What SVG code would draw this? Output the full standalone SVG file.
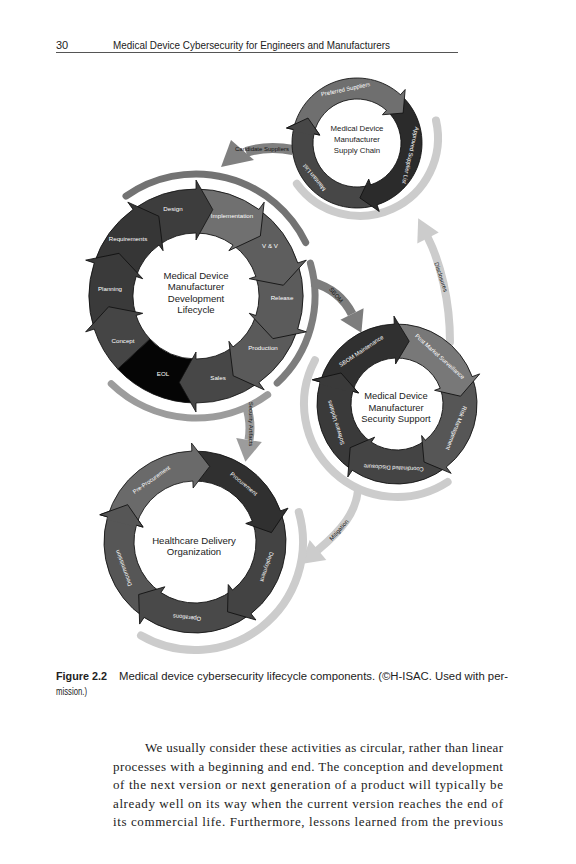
<svg xmlns="http://www.w3.org/2000/svg" width="576" height="864" viewBox="0 0 576 864">
<defs>
<style>
.seg{stroke:#111;stroke-width:0.8;stroke-linejoin:miter}
.sans{font-family:"Liberation Sans",Arial,sans-serif}
.lbl{font-family:"Liberation Sans",Arial,sans-serif;font-size:6.2px;fill:#fff;text-anchor:middle;dominant-baseline:central}
.rl{font-family:"Liberation Sans",Arial,sans-serif;font-size:5.8px;fill:#fff;text-anchor:middle;dominant-baseline:central}
.ctr{font-family:"Liberation Sans",Arial,sans-serif;fill:#222;text-anchor:middle}
.cl{font-family:"Liberation Sans",Arial,sans-serif;font-size:6px;fill:#111;text-anchor:middle;dominant-baseline:central}
.arc{fill:none;stroke-linecap:round}
.body{font-family:"Liberation Serif","Times New Roman",serif;font-size:13px;fill:#222}
</style>
<path id="m36" d="M86.56 -62.89 A107 107 0 0 1 107 0 L116 0 L86.38 16.79 L56 0 L63 0 A63 63 0 0 0 50.97 -37.03 Z"/>
<path id="m47" d="M72.97 -78.26 A107 107 0 0 1 107 0 L63 0 A63 63 0 0 0 42.97 -46.08 Z"/>
<path id="m25" d="M96.97 -45.22 A107 107 0 0 1 107 0 L116 0 L86.38 16.79 L56 0 L63 0 A63 63 0 0 0 57.10 -26.62 Z"/>
<path id="s120" d="M-32.5 -56.29 A65 65 0 0 1 65 0 L72 0 L53.13 14.23 L38 0 L44 0 A44 44 0 0 0 -22 -38.11 Z"/>
<path id="q72" d="M24.72 -76.09 A80 80 0 0 1 80 0 L88 0 L62.36 14.40 L40 0 L46 0 A46 46 0 0 0 14.21 -43.75 Z"/>
<path id="h72" d="M28.12 -86.55 A91 91 0 0 1 91 0 L99 0 L75.03 17.33 L54 0 L61 0 A61 61 0 0 0 18.85 -58.02 Z"/>
</defs>
<rect width="576" height="864" fill="#fff"/>

<g id="header" class="sans" fill="#222">
<text x="56" y="49" font-size="11">30</text>
<text x="113" y="49" font-size="11" textLength="277" lengthAdjust="spacingAndGlyphs">Medical Device Cybersecurity for Engineers and Manufacturers</text>
<path d="M56 52.5 H458" stroke="#555" stroke-width="1"/>
</g>

<g id="connectors">
<path class="arc" d="M126 196.1 A122 122 0 0 1 305.7 242.5" stroke="#737373" stroke-width="7"/>
<path class="arc" d="M310.4 263.2 A119 119 0 0 1 277.2 383" stroke="#7d7d7d" stroke-width="7"/>
<path d="M312 282 Q340 290 352 314" stroke="#7d7d7d" stroke-width="9" fill="none"/>
<polygon points="363.6,308.2 340.4,319.8 361.4,332.8" fill="#7d7d7d"/>
<text class="cl" transform="translate(336 295) rotate(50)">SBOM</text>
<path class="arc" d="M267.7 394.7 A122 122 0 0 1 111.25 383.75" stroke="#9c9c9c" stroke-width="7"/>
<path d="M246 405 Q252 422 249 440" stroke="#9c9c9c" stroke-width="9" fill="none"/>
<polygon points="261.8,442.1 236.2,437.9 245.4,461.7" fill="#9c9c9c"/>
<text class="cl" transform="translate(250.5 424) rotate(90)">Security Artifacts</text>
<path d="M293 150 Q268 145 246 152" stroke="#808080" stroke-width="10" fill="none"/>
<polygon points="231,140 254,160 221,167" fill="#808080"/>
<text class="cl" x="262" y="148.5">Candidate Suppliers</text>
<path class="arc" d="M296.9 183.8 A78 78 0 0 0 436 120.5" stroke="#cccccc" stroke-width="8"/>
<path class="arc" d="M450 342 C450 300 440 262 428 238" stroke="#cccccc" stroke-width="8"/>
<polygon points="438.7,232.6 417.3,243.4 418.2,218.3" fill="#cccccc"/>
<text class="cl" transform="translate(441 277) rotate(72)">Disclosures</text>
<path class="arc" d="M314.9 360.3 A93 93 0 0 0 447.6 482" stroke="#cccccc" stroke-width="8"/>
<path class="arc" d="M358 490 C356 512 342 530 318 550" stroke="#cccccc" stroke-width="8"/>
<polygon points="326.3,560 309.7,540 301.1,564.1" fill="#cccccc"/>
<text class="cl" transform="translate(339 530) rotate(-48)">Mitigation</text>
<path class="arc" d="M298.8 512.2 A108 108 0 0 1 141 635.5" stroke="#cccccc" stroke-width="8"/>
</g>

<g id="dev-lifecycle">
<g id="seg-eol"><use href="#m47" class="seg" fill="#050505" transform="translate(196 296) rotate(137)"/><text class="lbl" x="163" y="373">EOL</text></g>
<g id="seg-sales"><use href="#m36" class="seg" fill="#474747" transform="translate(196 296) rotate(90)"/><text class="lbl" x="218" y="377">Sales</text></g>
<g id="seg-production"><use href="#m36" class="seg" fill="#5a5a5a" transform="translate(196 296) rotate(54)"/><text class="lbl" x="263" y="347">Production</text></g>
<g id="seg-release"><use href="#m36" class="seg" fill="#5b5b5b" transform="translate(196 296) rotate(18)"/><text class="lbl" x="282" y="297">Release</text></g>
<g id="seg-vv"><use href="#m36" class="seg" fill="#5e5e5e" transform="translate(196 296) rotate(-18)"/><text class="lbl" x="270" y="245">V &amp; V</text></g>
<g id="seg-implementation"><use href="#m36" class="seg" fill="#707070" transform="translate(196 296) rotate(-54)"/><text class="lbl" x="232" y="215">Implementation</text></g>
<g id="seg-design"><use href="#m36" class="seg" fill="#3d3d3d" transform="translate(196 296) rotate(-90)"/><text class="lbl" x="173" y="208">Design</text></g>
<g id="seg-requirements"><use href="#m36" class="seg" fill="#363636" transform="translate(196 296) rotate(-126)"/><text class="lbl" x="128" y="238">Requirements</text></g>
<g id="seg-planning"><use href="#m36" class="seg" fill="#3a3a3a" transform="translate(196 296) rotate(198)"/><text class="lbl" x="110" y="288">Planning</text></g>
<g id="seg-concept"><use href="#m25" class="seg" fill="#454545" transform="translate(196 296) rotate(162)"/><text class="lbl" x="123" y="340">Concept</text></g>
<g id="dev-title" class="ctr" font-size="9.6">
<text x="196" y="278.5">Medical Device</text>
<text x="196" y="290">Manufacturer</text>
<text x="196" y="301.5">Development</text>
<text x="196" y="313">Lifecycle</text>
</g>
</g>

<g id="supply-chain">
<g id="seg-maintain"><use href="#s120" class="seg" fill="#474747" transform="translate(357 143) rotate(192)"/></g>
<g id="seg-approved"><use href="#s120" class="seg" fill="#2b2b2b" transform="translate(357 143) rotate(72)"/></g>
<g id="seg-preferred"><use href="#s120" class="seg" fill="#6f6f6f" transform="translate(357 143) rotate(-48)"/></g>
<g transform="translate(357 143) rotate(192)">
<path d="M64.98 -1.70 L65 0 L72 0 L53.13 14.23 L38 0 L44 0 L43.98 -1.15 Z" fill="#474747"/>
<path d="M65 0 L72 0 L53.13 14.23 L38 0 L44 0" class="seg" fill="none"/>
</g>
<text class="rl" transform="translate(357 143) rotate(-12)" x="0" y="-55">Preferred Suppliers</text>
<text class="rl" transform="translate(357 143) rotate(103)" x="0" y="-55">Approved Supplier List</text>
<text class="rl" transform="translate(357 143) rotate(231)" x="0" y="-55">Maintain List</text>
<g id="supply-title" class="ctr" font-size="7.8">
<text x="357" y="131">Medical Device</text>
<text x="357" y="142">Manufacturer</text>
<text x="357" y="152.5">Supply Chain</text>
</g>
</g>

<g id="security-support">
<g id="seg-software"><use href="#q72" class="seg" fill="#3a3a3a" transform="translate(397 404) rotate(196)"/></g>
<g id="seg-coordinated"><use href="#q72" class="seg" fill="#444444" transform="translate(397 404) rotate(124)"/></g>
<g id="seg-risk"><use href="#q72" class="seg" fill="#565656" transform="translate(397 404) rotate(52)"/></g>
<g id="seg-pms"><use href="#q72" class="seg" fill="#787878" transform="translate(397 404) rotate(-20)"/></g>
<g id="seg-sbom"><use href="#q72" class="seg" fill="#303030" transform="translate(397 404) rotate(-92)"/></g>
<g transform="translate(397 404) rotate(196)">
<path d="M79.97 -2.09 L80 0 L88 0 L62.36 14.40 L40 0 L46 0 L45.98 -1.20 Z" fill="#3a3a3a"/>
<path d="M80 0 L88 0 L62.36 14.40 L40 0 L46 0" class="seg" fill="none"/>
</g>
<text class="rl" transform="translate(397 404) rotate(-34)" x="0" y="-64">SBOM Maintenance</text>
<text class="rl" transform="translate(397 404) rotate(42)" x="0" y="-64">Post Market Surveillance</text>
<text class="rl" transform="translate(397 404) rotate(112)" x="0" y="-64">Risk Management</text>
<text class="rl" transform="translate(397 404) rotate(183)" x="0" y="-64">Coordinated Disclosure</text>
<text class="rl" transform="translate(397 404) rotate(253)" x="0" y="-64">Software Updates</text>
<g id="security-title" class="ctr" font-size="9.4">
<text x="396" y="399">Medical Device</text>
<text x="396" y="410.5">Manufacturer</text>
<text x="396" y="422">Security Support</text>
</g>
</g>

<g id="healthcare">
<g id="seg-decommission"><use href="#h72" class="seg" fill="#565656" transform="translate(195 542) rotate(196)"/></g>
<g id="seg-operations"><use href="#h72" class="seg" fill="#494949" transform="translate(195 542) rotate(124)"/></g>
<g id="seg-deployment"><use href="#h72" class="seg" fill="#434343" transform="translate(195 542) rotate(52)"/></g>
<g id="seg-procurement"><use href="#h72" class="seg" fill="#303030" transform="translate(195 542) rotate(-20)"/></g>
<g id="seg-preprocurement"><use href="#h72" class="seg" fill="#6a6a6a" transform="translate(195 542) rotate(-92)"/></g>
<g transform="translate(195 542) rotate(196)">
<path d="M90.97 -2.38 L91 0 L99 0 L75.03 17.33 L54 0 L61 0 L60.98 -1.60 Z" fill="#565656"/>
<path d="M91 0 L99 0 L75.03 17.33 L54 0 L61 0" class="seg" fill="none"/>
</g>
<text class="rl" transform="translate(195 542) rotate(-35)" x="0" y="-76">Pre-Procurement</text>
<text class="rl" transform="translate(195 542) rotate(40)" x="0" y="-76">Procurement</text>
<text class="rl" transform="translate(195 542) rotate(109)" x="0" y="-76">Deployment</text>
<text class="rl" transform="translate(195 542) rotate(186)" x="0" y="-76">Operations</text>
<text class="rl" transform="translate(195 542) rotate(250)" x="0" y="-76">Decommission</text>
<g id="healthcare-title" class="ctr" font-size="9.6">
<text x="194" y="543.5">Healthcare Delivery</text>
<text x="194" y="554.5">Organization</text>
</g>
</g>

<g id="caption" class="sans" fill="#222">
<text x="56" y="680" font-size="10" font-weight="bold" textLength="51" lengthAdjust="spacingAndGlyphs">Figure 2.2</text>
<text x="119" y="680" font-size="10" textLength="389" lengthAdjust="spacingAndGlyphs">Medical device cybersecurity lifecycle components. (©H-ISAC. Used with per-</text>
<text x="56" y="695" font-size="10" textLength="31" lengthAdjust="spacingAndGlyphs">mission.)</text>
</g>

<g id="body-text" class="body">
<text x="145" y="752" textLength="358" lengthAdjust="spacing">We usually consider these activities as circular, rather than linear</text>
<text x="113" y="770.5" textLength="390" lengthAdjust="spacing">processes with a beginning and end. The conception and development</text>
<text x="113" y="789" textLength="390" lengthAdjust="spacing">of the next version or next generation of a product will typically be</text>
<text x="113" y="807.5" textLength="390" lengthAdjust="spacing">already well on its way when the current version reaches the end of</text>
<text x="113" y="826" textLength="390" lengthAdjust="spacing">its commercial life. Furthermore, lessons learned from the previous</text>
</g>
</svg>
